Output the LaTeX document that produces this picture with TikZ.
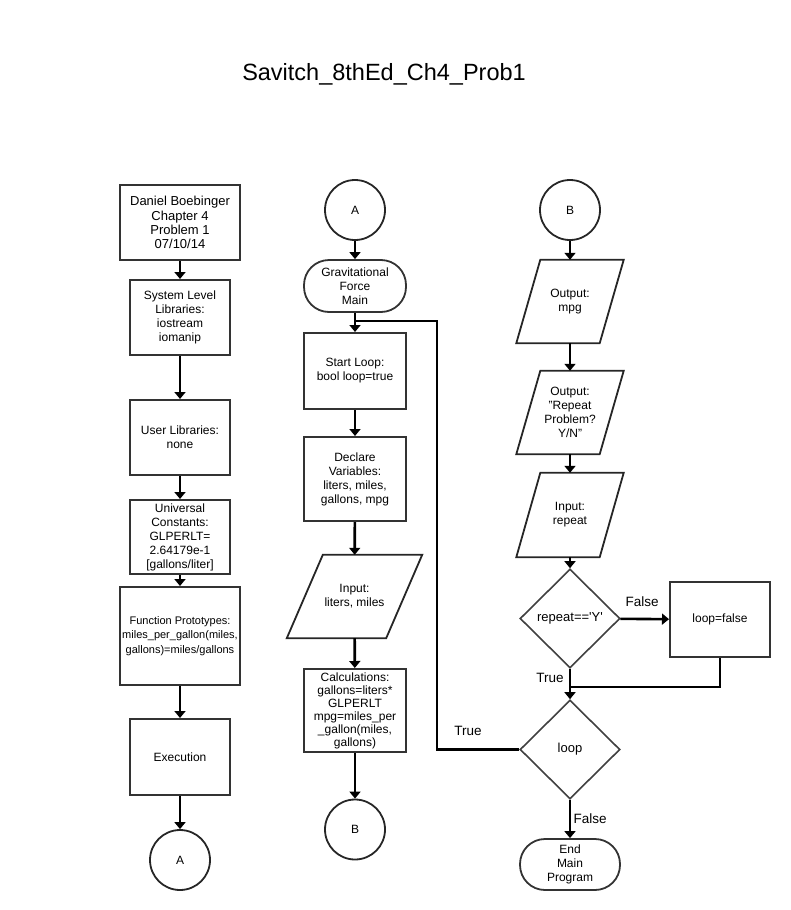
\documentclass[tikz,border=0pt]{standalone}
\usepackage{fontspec}
\setmainfont{Liberation Sans}
\usetikzlibrary{shapes.geometric,arrows.meta}

% draws an input/output parallelogram on the frame of a named node
\newcommand{\ioshape}[2]{%
  \draw[ioline] ([xshift=#2]#1.north west) -- (#1.north east)
    -- ([xshift=-#2]#1.south east) -- (#1.south west) -- cycle;}

\begin{document}
\begin{tikzpicture}[x=1pt,y=-1pt,
  every node/.style={font=\fontsize{12}{14}\selectfont, align=center, inner sep=0pt, text=black},
  proc/.style={draw=black!80, line width=2pt, rectangle},
  term/.style={draw=black!80, line width=1.8pt, rectangle, rounded corners=25pt},
  conn/.style={draw=black!85, line width=1.8pt, circle, minimum size=60pt},
  dec/.style={draw=black!75, line width=1.6pt, diamond, minimum width=100pt, minimum height=99pt},
  ioline/.style={draw=black!85, line width=1.8pt},
  flow/.style={draw=black, line width=2.6pt, -{Triangle[length=7pt,width=11pt]}},
  wire/.style={draw=black, line width=2.6pt},
  lbl/.style={font=\fontsize{13.5}{15}\selectfont}
]
\useasboundingbox (0,0) rectangle (790,910);

% title
\node (title) at (384,74) {\fontsize{23.5}{26}\selectfont Savitch\_8thEd\_Ch4\_Prob1};

% ---------- header column ----------
\node[proc, minimum width=120pt, minimum height=75pt, font=\fontsize{13}{14.2}\selectfont] (hdr) at (180,222.5)
  {Daniel Boebinger\\Chapter 4\\Problem 1\\07/10/14};
\node[proc, minimum width=100pt, minimum height=75pt] (syslib) at (180,317.5)
  {System Level\\Libraries:\\iostream\\iomanip};
\node[proc, minimum width=100pt, minimum height=75pt] (usrlib) at (180,437.5)
  {User Libraries:\\none};
\node[proc, minimum width=100pt, minimum height=74pt] (consts) at (180,537)
  {Universal\\Constants:\\GLPERLT=\\2.64179e-1\\{}[gallons/liter]};
\node[proc, minimum width=120pt, minimum height=98pt, font=\fontsize{11}{14.5}\selectfont] (protos) at (180,636)
  {Function Prototypes:\\miles\_per\_gallon(miles,\\gallons)=miles/gallons};
\node[proc, minimum width=100pt, minimum height=76pt] (exec) at (180,757) {Execution};
\node[conn] (outA) at (180,860) {A};

\draw[flow] (hdr) -- (syslib);
\draw[flow] (syslib) -- (usrlib);
\draw[flow] (usrlib) -- (consts);
\draw[flow] (consts) -- (protos);
\draw[flow] (protos) -- (exec);
\draw[flow] (exec) -- (outA);

% ---------- main column ----------
\node[conn] (inA) at (355,210) {A};
\node[term, minimum width=102pt, minimum height=52pt] (main) at (355,286)
  {Gravitational\\Force\\Main};
\node[proc, minimum width=102pt, minimum height=76pt] (start) at (355,371)
  {Start Loop:\\bool loop=true};
\node[proc, minimum width=102pt, minimum height=84pt] (decl) at (355,479)
  {Declare\\Variables:\\liters, miles,\\gallons, mpg};
\node[minimum width=135pt, minimum height=83pt] (input) at (354.5,596.5)
  {Input:\\liters, miles};
\ioshape{input}{36}
\node[proc, minimum width=102pt, minimum height=83pt, font=\fontsize{12}{13}\selectfont] (calc) at (355,710.5)
  {Calculations:\\gallons=liters*\\GLPERLT\\mpg=miles\_per\\\_gallon(miles,\\gallons)};
\node[conn] (outB) at (355,829.5) {B};

\coordinate (join) at (355,321);
\draw[flow] (inA) -- (main);
\draw[flow] (main) -- (start);
\draw[flow] (start) -- (decl);
\draw[flow] (decl) -- (input);
\draw[flow] (input) -- (calc);
\draw[flow] (calc) -- (outB);

% ---------- output column ----------
\node[conn] (inB) at (570,210) {B};
\node[minimum width=107pt, minimum height=83pt] (showmpg) at (570,301.5)
  {Output:\\mpg};
\ioshape{showmpg}{24}
\node[minimum width=107pt, minimum height=83pt] (prompt) at (570,412.5)
  {Output:\\"Repeat\\Problem?\\Y/N"};
\ioshape{prompt}{24}
\node[minimum width=107pt, minimum height=84pt] (getrep) at (570,515)
  {Input:\\repeat};
\ioshape{getrep}{24}
\node[dec, font=\fontsize{13}{15}\selectfont] (askrep) at (570,618.5)
  {repeat==\textquotesingle Y\textquotesingle};
\node[proc, minimum width=100pt, minimum height=75pt] (stop) at (720,619.5) {loop=false};
\node[dec, font=\fontsize{13}{15}\selectfont] (loop) at (570,749.5) {loop};
\node[term, minimum width=100pt, minimum height=51pt] (done) at (570,864.5)
  {End\\Main\\Program};

\draw[flow] (inB) -- (showmpg);
\draw[flow] (showmpg) -- (prompt);
\draw[flow] (prompt) -- (getrep);
\draw[flow] (getrep) -- (askrep);
\draw[flow] (askrep) -- (stop);
\draw[flow] (askrep) -- (loop);
\coordinate (merge) at (570,687);
\draw[wire] (stop.south) |- (merge);
\draw[flow] (loop) -- (done);

% loop back to the start of the loop
\coordinate (back) at (437,321);
\draw[wire] (loop.west) -| (back) -- (join);

% branch labels
\node[lbl] (lfalse) at (642,602) {False};
\node[lbl] (ltrue) at (550,678) {True};
\node[lbl] (lagain) at (468,731) {True};
\node[lbl] (lexit) at (590,819) {False};
\end{tikzpicture}
\end{document}
